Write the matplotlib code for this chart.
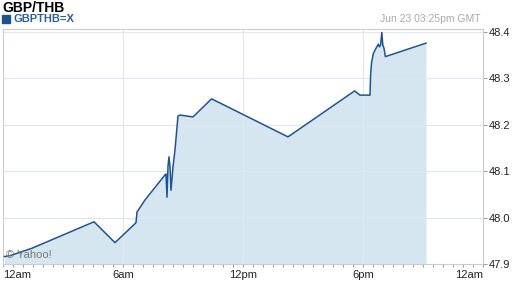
import matplotlib
matplotlib.use("Agg")
import matplotlib.pyplot as plt
from matplotlib.patches import Rectangle

# hours since midnight, GBP/THB rate
hours = [0.07, 0.35, 1.45, 4.55, 5.6, 6.65, 6.7, 7.1, 8.1, 8.15, 8.2, 8.25, 8.3,
         8.35, 8.4, 8.5, 8.6, 8.75, 8.85, 9.5, 10.43, 14.25, 17.58, 17.85, 18.35,
         18.38, 18.43, 18.52, 18.65, 18.77, 18.82, 18.88, 18.94, 18.99, 19.05,
         19.12, 21.15]
rates = [47.916, 47.918, 47.934, 47.991, 47.946, 47.989, 48.012, 48.038, 48.092,
         48.094, 48.044, 48.111, 48.131, 48.109, 48.059, 48.109, 48.146, 48.219,
         48.221, 48.217, 48.256, 48.174, 48.273, 48.264, 48.264, 48.307, 48.335,
         48.354, 48.365, 48.374, 48.368, 48.372, 48.399, 48.372, 48.365, 48.347,
         48.376]

x_ticks = [0, 6, 12, 18, 24]
x_labels = ['12am', '6am', '12pm', '6pm', '12am']
y_ticks = [47.9, 48.0, 48.1, 48.2, 48.3, 48.4]

line_col = '#1d5390'
fill_col = '#d6e6f1'
grid_col = '#dfe7f1'
axis_col = '#cccccc'

plt.rcParams['font.family'] = ['Liberation Sans', 'DejaVu Sans']

fig = plt.figure(figsize=(5.12, 2.88), dpi=100)
ax = fig.add_axes([3 / 512, 24 / 288, 480 / 512, 235 / 288])

ax.fill_between(hours, rates, 47.9, color=fill_col, lw=0, zorder=1)
ax.plot(hours, rates, color=line_col, lw=1.1, zorder=3)

ax.set_xlim(0, 24)
ax.set_ylim(47.9, 48.4065)

for h in x_ticks[1:-1]:
    ax.axvline(h, color=grid_col, lw=0.8, zorder=2)
for v in y_ticks[1:]:
    ax.axhline(v, color=grid_col, lw=0.8, zorder=2)

for s in ['top', 'left', 'bottom', 'right']:
    ax.spines[s].set_color(axis_col)
    ax.spines[s].set_linewidth(0.8)

ax.set_xticks(x_ticks)
ax.set_xticklabels(x_labels)
ax.set_xticks([i * 0.5 for i in range(49)], minor=True)
labs = ax.get_xticklabels()
labs[0].set_ha('left')
labs[-1].set_ha('right')
ax.tick_params(axis='x', which='both', direction='out', length=2.5, width=0.7,
               color='#999999', labelsize=8, labelcolor='#222222', pad=2)

ax.yaxis.tick_right()
ax.set_yticks(y_ticks)
ax.set_yticklabels([f'{v:.1f}' for v in y_ticks])
ax.tick_params(axis='y', direction='out', length=3, width=0.7, color='#999999',
               labelsize=8, labelcolor='#222222', pad=1)

fig.text(2 / 512, 1 - 8 / 288, 'GBP/THB', fontsize=10, fontweight='bold',
         color='black', va='center', ha='left')
fig.patches.append(Rectangle((2 / 512, 1 - 23 / 288), 8 / 512, 8 / 288,
                             transform=fig.transFigure, color=line_col))
fig.text(13 / 512, 1 - 19 / 288, 'GBPTHB=X', fontsize=8, fontweight='bold',
         color='#2a5f9e', va='center', ha='left')
fig.text(480 / 512, 1 - 19 / 288, 'Jun 23 03:25pm GMT', fontsize=7.5,
         color='#aaaaaa', va='center', ha='right')
ax.text(0.006, 0.04, '© Yahoo!', transform=ax.transAxes, fontsize=8,
        color='#777777', va='center', ha='left', zorder=4)

fig.savefig('out.png', dpi=100)
